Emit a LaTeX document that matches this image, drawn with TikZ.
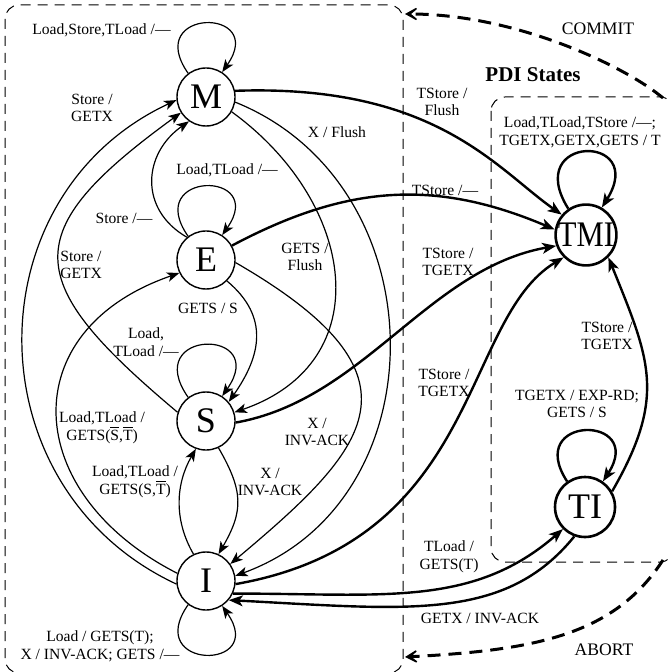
\documentclass[tikz,border=0pt]{standalone}
\usepackage{fontspec}
\usepackage{graphicx}
\setmainfont{Liberation Serif}
\usetikzlibrary{arrows.meta}
\newcommand\ovl[1]{\ensuremath{\overline{\hbox{#1}}}}
\begin{document}
\begin{tikzpicture}[x=0.5pt,y=-0.5pt,
  st/.style={circle,draw,line width=0.7pt,minimum size=29pt,inner sep=0pt,font=\fontsize{18}{18}\selectfont},
  pst/.style={circle,draw,line width=1.3pt,minimum size=30pt,inner sep=0pt,font=\fontsize{18}{18}\selectfont},
  lbl/.style={inner sep=0pt,align=center,font=\fontsize{7.8}{8.9}\selectfont},
  tr/.style={line width=0.6pt,-{Stealth[length=6.2pt,width=4.8pt,inset=1.6pt]}},
  ptr/.style={line width=1.2pt,-{Stealth[length=7pt,width=5.4pt,inset=1.8pt]}},
  box/.style={dash pattern=on 5pt off 3.5pt,line width=0.5pt,rounded corners=7pt},
  big/.style={line width=1.5pt,dash pattern=on 6.5pt off 4pt,-{Stealth[length=9pt,width=10pt,inset=6pt]}}
]
\useasboundingbox (0,0) rectangle (669,672);

% frames
\draw[box] (5,5) rectangle (403,673);
\draw[box] (491,97) rectangle (674,562);

% states
\node[st] (M) at (206,97) {M};
\node[st] (E) at (206,260) {E};
\node[st] (S) at (206,421) {S};
\node[st] (I) at (206,581) {I};
\node[pst] (TMI) at (586,235) {\scalebox{0.85}[1]{TMI}};
\node[pst] (TI) at (585,507) {TI};

% self loops
\draw[tr] (M.127) .. controls +(125:40pt) and +(55:40pt) .. (M.57);
\draw[tr] (E.127) .. controls +(125:40pt) and +(55:40pt) .. (E.57);
\draw[tr] (S.127) .. controls +(125:42pt) and +(55:42pt) .. (S.57);
\draw[tr] (I.-127) .. controls +(-125:40pt) and +(-55:40pt) .. (I.-57);
\draw[ptr] (TMI.124) .. controls +(122:44pt) and +(58:44pt) .. (TMI.60);
\draw[ptr] (TI.125) .. controls +(123:40pt) and +(57:40pt) .. (TI.55);

% MESI transitions
\draw[tr] (I.186) .. controls +(155:113pt) and +(205:113pt) .. (M.186);
\draw[tr] (S.163) .. controls +(140:102pt) and +(216:102pt) .. (M.212);
\draw[tr] (E.130) .. controls +(150:28pt) and +(215:28pt) .. (M.235);
\draw[tr] (I.165) .. controls +(153:88pt) and +(199:88pt) .. (E.206);
\draw[tr] (E.-45) .. controls +(-40:28pt) and +(55:28pt) .. (S.40);
\draw[tr] (M.-30) .. controls +(-36:77pt) and +(19:77pt) .. (S.17);
\draw[tr] (M.-10) .. controls +(-22:110pt) and +(20:110pt) .. (I.10);
\draw[tr] (E.-5) .. controls +(-30:115pt) and +(40:90pt) .. (I.35);
\draw[tr] (S.-65) .. controls +(-60:25pt) and +(60:25pt) .. (I.65);
\draw[tr] (I.115) .. controls +(120:20pt) and +(-120:20pt) .. (S.-110);

% PDI transitions
\draw[ptr] (M.12) .. controls +(2:100pt) and +(145:40pt) .. (TMI.140);
\draw[ptr] (E.29) .. controls +(28:65pt) and +(157:65pt) .. (TMI.170);
\draw[ptr] (S.-3) .. controls +(10:65pt) and +(190:65pt) .. (TMI.200);
\draw[ptr] (I.-6) .. controls +(10:125pt) and +(211:60pt) .. (TMI.225);
\draw[ptr] (I.-25) .. controls +(0:75pt) and +(221:60pt) .. (TI.-135);
\draw[ptr] (TI.-110) .. controls +(231:55pt) and +(-3:90pt) .. (I.-40);
\draw[ptr] (TI.30) .. controls +(60:55pt) and +(-68:55pt) .. (TMI.-45);

% commit / abort
\coordinate (cs) at (663,98);
\coordinate (ce) at (405,14);
\coordinate (as) at (663,560);
\coordinate (ae) at (405,657);
\draw[big] (cs) .. controls +(140:25pt) and +(0:55pt) .. (ce);
\draw[big] (as) .. controls +(237:45pt) and +(3:65pt) .. (ae);

% labels
\node[lbl,anchor=east] (lMl) at (171,30) {Load,Store,TLoad /—};
\node[lbl] (lEl) at (227,170) {Load,TLoad /—};
\node[lbl] (lSl) at (146,342) {Load,\\TLoad /—};
\node[lbl] (lIl) at (100,646) {Load / GETS(T);\\X / INV-ACK; GETS /—};
\node[lbl] (lIM) at (92,108) {Store /\\GETX};
\node[lbl,anchor=west,align=left] (lSM) at (60,265) {Store /\\GETX};
\node[lbl] (lEM) at (124,218) {Store /—};
\node[lbl] (lIE) at (102,428) {Load,TLoad /\\GETS(\ovl{S},\ovl{T})};
\node[lbl] (lIS) at (135,482) {Load,TLoad /\\GETS(S,\ovl{T})};
\node[lbl] (lES) at (208,308) {GETS / S};
\node[lbl] (lMI) at (337,132) {X / Flush};
\node[lbl] (lMS) at (305,257) {GETS /\\Flush};
\node[lbl] (lEI) at (317,432) {X /\\INV-ACK};
\node[lbl] (lSI) at (270,482) {X /\\INV-ACK};
\node[lbl] (lMT) at (442,102) {TStore /\\Flush};
\node[lbl] (lET) at (445,190) {TStore /—};
\node[lbl] (lST) at (448,262) {TStore /\\TGETX};
\node[lbl] (lIT) at (444,383) {TStore /\\TGETX};
\node[lbl] (lITI) at (449,557) {TLoad /\\GETS(T)};
\node[lbl] (lTII) at (480,618) {GETX / INV-ACK};
\node[lbl] (lTIT) at (607,336) {TStore /\\TGETX};
\node[lbl] (lTl) at (580,132) {Load,TLoad,TStore /—;\\TGETX,GETX,GETS / T};
\node[lbl] (lTIl) at (577,404) {TGETX / EXP-RD;\\GETS / S};
\node[inner sep=0pt,font=\fontsize{10.5}{12}\selectfont\bfseries] (pdi) at (533,75) {PDI States};
\node[inner sep=0pt,font=\fontsize{8.8}{10}\selectfont] (lC) at (598,29) {COMMIT};
\node[inner sep=0pt,font=\fontsize{8.8}{10}\selectfont] (lA) at (604,650) {ABORT};
\end{tikzpicture}
\end{document}
